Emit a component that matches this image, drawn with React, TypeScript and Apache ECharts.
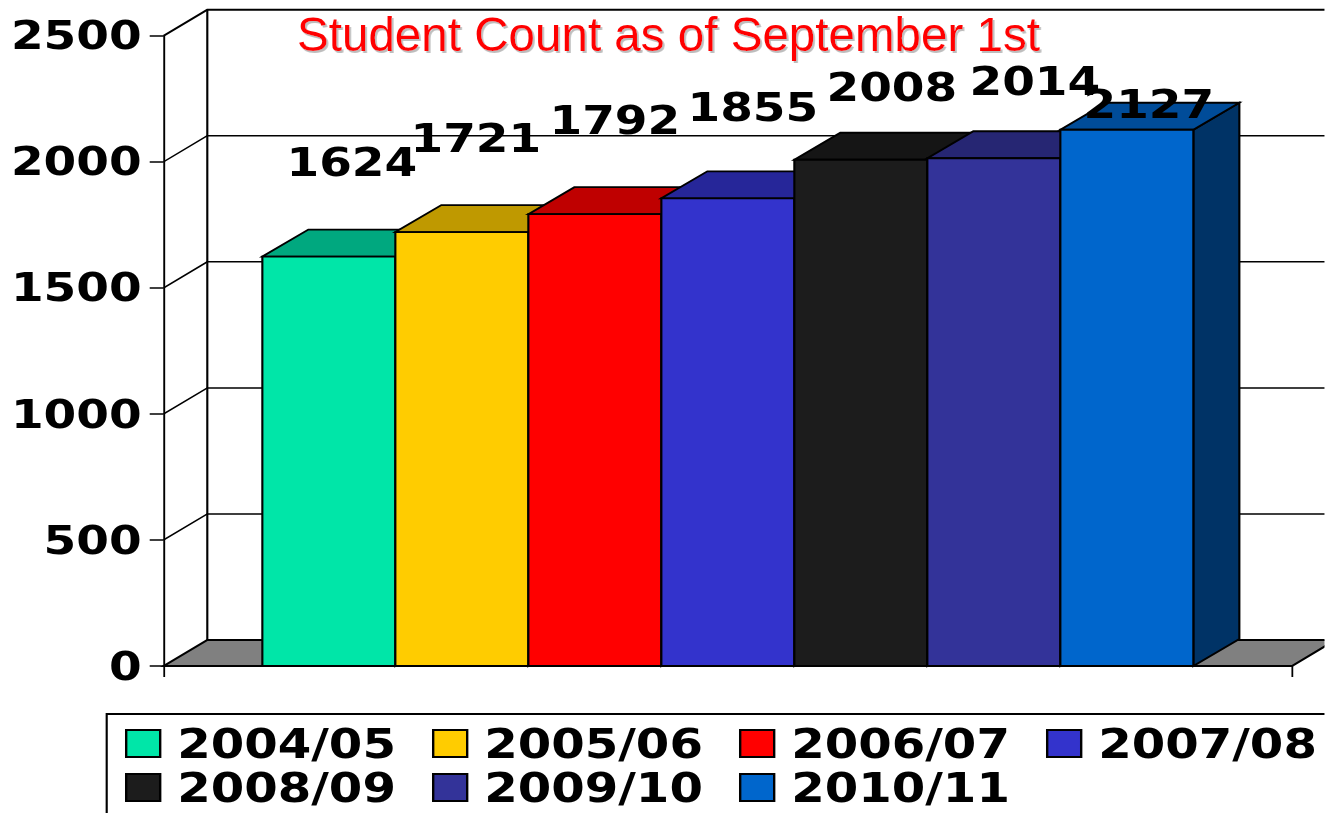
import React, { useEffect, useRef } from "react";
import * as echarts from "echarts";

const years = ["2004/05", "2005/06", "2006/07", "2007/08", "2008/09", "2009/10", "2010/11"];
const counts = [1624, 1721, 1792, 1855, 2008, 2014, 2127];
const yTicks = [0, 500, 1000, 1500, 2000, 2500];
const categories = ["Students"];
const titleText = "Student Count as of September 1st";

const faceColors = ["#00E6A8", "#FFCC00", "#FF0000", "#3333CC", "#1C1C1C", "#333399", "#0066CC"];
const topColors = ["#00A87F", "#BF9900", "#BF0000", "#262699", "#151515", "#262673", "#004C99"];
const sideColors = ["#007F5F", "#8F7300", "#8F0000", "#1F1F73", "#101010", "#1C1C59", "#003366"];
// Label displacement from each bar's front-top centre, in page pixels.
const labelShiftX = [23, 14, 20, 25, 31, 41, 22];
const labelShiftY = [-94, -94, -94, -91, -72, -77, -25];

// The source picture is stretched horizontally; the whole chart is drawn narrower and widened by CSS.
const STRETCH = 1.19;
const PAGE_W = 1325;
const PAGE_H = 813;
const px = (x: number) => x / STRETCH;

const WALL_DX = px(43.6);
const WALL_DY = 26;
const BAR_DX = px(46);
const BAR_DY = 27;
const BAR_BAND_RATIO = 133 / 1128.3;

const FONT = "'DejaVu Sans', Verdana, sans-serif";

export default function App() {
  const ref = useRef<HTMLDivElement>(null);
  useEffect(() => {
    document.body.style.margin = "0";
    const chart = echarts.init(ref.current!, null, { renderer: "svg" });

    const wallSeries = {
      type: "custom",
      name: "walls",
      silent: true,
      clip: false,
      z: 1,
      data: yTicks.map((v) => [0, v]),
      renderItem: (params: any, api: any) => {
        const v = api.value(1);
        const sys = params.coordSys;
        const y = api.coord([0, v])[1];
        const xL = sys.x;
        const xR = sys.x + sys.width;
        const lineStyle = { stroke: "#000", lineWidth: v === 2500 ? 2 : 1.5, fill: "none" };
        const children: any[] = [];
        if (v === 0) {
          children.push({
            type: "polygon",
            shape: { points: [[xL, y], [xR, y], [xR + WALL_DX, y - WALL_DY], [xL + WALL_DX, y - WALL_DY]] },
            style: { fill: "#808080", stroke: "#000", lineWidth: 2 },
          });
        } else {
          children.push({
            type: "polyline",
            shape: { points: [[xL, y], [xL + WALL_DX, y - WALL_DY], [xR + WALL_DX, y - WALL_DY]] },
            style: lineStyle,
          });
        }
        if (v === 2500) {
          children.push({
            type: "line",
            shape: { x1: xL + WALL_DX, y1: y - WALL_DY, x2: xL + WALL_DX, y2: sys.y + sys.height - WALL_DY },
            style: { stroke: "#000", lineWidth: 1.8 },
          });
        }
        return { type: "group", children };
      },
    };

    const barSeries = years.map((year, i) => ({
      type: "custom",
      name: year,
      clip: false,
      z: 2 + i,
      itemStyle: { color: faceColors[i] },
      data: [[0, counts[i]]],
      renderItem: (_params: any, api: any) => {
        const top = api.coord([0, api.value(1)]);
        const base = api.coord([0, 0]);
        const w = api.size([1, 0])[0] * BAR_BAND_RATIO;
        const x0 = top[0] - 3.5 * w + i * w;
        const x1 = x0 + w;
        const stroke = { stroke: "#000", lineWidth: 1.8 };
        return {
          type: "group",
          children: [
            {
              type: "polygon",
              shape: { points: [[x1, top[1]], [x1 + BAR_DX, top[1] - BAR_DY], [x1 + BAR_DX, base[1] - BAR_DY], [x1, base[1]]] },
              style: { fill: sideColors[i], ...stroke },
            },
            {
              type: "polygon",
              shape: { points: [[x0, top[1]], [x0 + BAR_DX, top[1] - BAR_DY], [x1 + BAR_DX, top[1] - BAR_DY], [x1, top[1]]] },
              style: { fill: topColors[i], ...stroke },
            },
            {
              type: "rect",
              shape: { x: x0, y: top[1], width: w, height: base[1] - top[1] },
              style: { fill: faceColors[i], ...stroke },
            },
            {
              type: "text",
              z2: 50,
              style: {
                text: String(api.value(1)),
                x: x0 + w / 2 + px(labelShiftX[i]),
                y: top[1] + labelShiftY[i],
                align: "center",
                verticalAlign: "middle",
                fill: "#000",
                fontFamily: FONT,
                fontWeight: "bold",
                fontSize: 39.5,
              },
            },
          ],
        };
      },
    }));

    const legendCommon = {
      show: true,
      orient: "horizontal",
      icon: "rect",
      padding: 0,
      left: px(125),
      width: 1300,
      itemWidth: px(34),
      itemHeight: 27,
      itemGap: px(36),
      itemStyle: { borderColor: "#000", borderWidth: 2 },
      textStyle: {
        fontFamily: FONT,
        fontWeight: "bold",
        fontSize: 40.5,
        lineHeight: 40,
        color: "#000",
        padding: [1, 0, 0, px(17) - 5],
      },
    };

    chart.setOption({
      animation: false,
      backgroundColor: "#fff",
      legend: [
        { ...legendCommon, top: 723, data: years.slice(0, 4) },
        { ...legendCommon, top: 767, data: years.slice(4) },
      ],
      grid: {
        left: px(163.7),
        top: 35.7,
        width: px(1292 - 163.7),
        height: 630.3,
        containLabel: false,
        outerBoundsMode: "none",
      },
      xAxis: {
        type: "category",
        data: categories,
        boundaryGap: true,
        axisLine: { show: true, lineStyle: { color: "#000", width: 1.8 } },
        axisTick: { show: true, length: 11, alignWithLabel: false, lineStyle: { color: "#000", width: 1.5 } },
        axisLabel: { show: false },
        splitLine: { show: false },
      },
      yAxis: {
        type: "value",
        min: 0,
        max: 2500,
        interval: 500,
        axisLine: { show: true, lineStyle: { color: "#000", width: 1.6 } },
        axisTick: { show: true, length: px(14), lineStyle: { color: "#000", width: 1.5 } },
        axisLabel: {
          show: true,
          margin: px(22),
          padding: [4, 0, 0, 0],
          color: "#000",
          fontFamily: FONT,
          fontWeight: "bold",
          fontSize: 39.5,
          formatter: (v: number) => String(v),
        },
        splitLine: { show: false },
      },
      graphic: [
        {
          type: "rect",
          silent: true,
          z: -1,
          shape: { x: px(106.7), y: 714, width: 1400, height: 300 },
          style: { fill: "none", stroke: "#000", lineWidth: 1.8 },
        },
        {
          type: "text",
          silent: true,
          z: 1,
          x: px(297),
          y: 34,
          scaleX: 0.816,
          style: {
            text: titleText,
            align: "left",
            verticalAlign: "middle",
            fontFamily: "'Liberation Sans', sans-serif",
            fontWeight: "normal",
            fontSize: 49,
            fill: "#FF0000",
            textShadowColor: "#BDBDBD",
            textShadowOffsetX: 1.5,
            textShadowOffsetY: 2,
            textShadowBlur: 0.8,
          },
        },
      ],
      series: [wallSeries, ...barSeries],
    });
    return () => chart.dispose();
  }, []);

  return (
    <div
      ref={ref}
      style={{
        position: "absolute",
        left: 0,
        top: 0,
        width: PAGE_W / STRETCH,
        height: PAGE_H,
        transform: `scaleX(${STRETCH})`,
        transformOrigin: "0 0",
      }}
    />
  );
}
